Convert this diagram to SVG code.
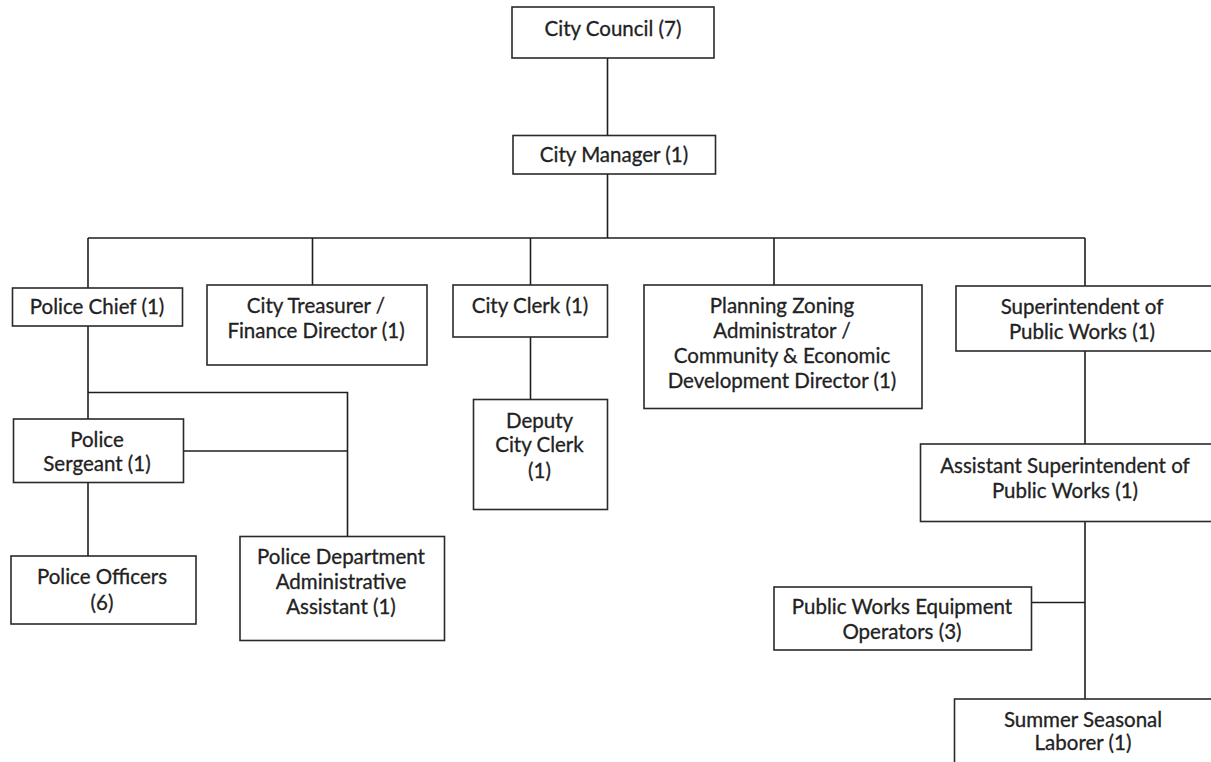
<svg xmlns="http://www.w3.org/2000/svg" width="1211" height="762" viewBox="0 0 1211 762">
  <style>
    .box { fill: #ffffff; stroke: #2a2a2a; stroke-width: 1.6; }
    .wire { fill: none; stroke: #1e1e1e; stroke-width: 1.6; }
    .lbl { font-family: Lato, "Liberation Sans", sans-serif; font-size: 20.5px; fill: #222222; stroke: #222222; stroke-width: 0.3; text-anchor: middle; }
  </style>
  <rect width="1211" height="762" fill="#ffffff"/>

  <!-- reporting lines -->
  <g id="connectors">
    <path class="wire" d="M607.5 58 V135.5"/>
    <path class="wire" d="M607.5 174 V238"/>
    <path class="wire" d="M88 238 H1085"/>
    <path class="wire" d="M88 238 V288 M312.5 238 V285 M530.5 238 V285 M774 238 V285 M1085 238 V286"/>
    <path class="wire" d="M88 326 V419"/>
    <path class="wire" d="M88 392.5 H347.5 V536.5"/>
    <path class="wire" d="M183 451 H347.5"/>
    <path class="wire" d="M88 482.5 V556"/>
    <path class="wire" d="M530.5 337 V399.5"/>
    <path class="wire" d="M1085 351 V444"/>
    <path class="wire" d="M1085 521.5 V699"/>
    <path class="wire" d="M1031.5 602.5 H1085"/>
  </g>

  <g id="city-council">
    <rect class="box" x="512" y="7" width="202" height="51"/>
    <text class="lbl" x="613" y="35.5">City Council (7)</text>
  </g>
  <g id="city-manager">
    <rect class="box" x="513" y="135.5" width="202.5" height="38.5"/>
    <text class="lbl" x="614" y="162">City Manager (1)</text>
  </g>
  <g id="police-chief">
    <rect class="box" x="12.5" y="288" width="170" height="38"/>
    <text class="lbl" x="97" y="314">Police Chief (1)</text>
  </g>
  <g id="city-treasurer">
    <rect class="box" x="207" y="285" width="220" height="80"/>
    <text class="lbl" x="316" y="313">City Treasurer /</text>
    <text class="lbl" x="316" y="338">Finance Director (1)</text>
  </g>
  <g id="city-clerk">
    <rect class="box" x="453" y="285" width="154.5" height="52"/>
    <text class="lbl" x="530" y="313">City Clerk (1)</text>
  </g>
  <g id="deputy-city-clerk">
    <rect class="box" x="473.5" y="399.5" width="134" height="110"/>
    <text class="lbl" x="539.5" y="427.5">Deputy</text>
    <text class="lbl" x="539.5" y="452">City Clerk</text>
    <text class="lbl" x="539.5" y="477.5">(1)</text>
  </g>
  <g id="planning-zoning">
    <rect class="box" x="644" y="285" width="278" height="123.5"/>
    <text class="lbl" x="782" y="312.5">Planning Zoning</text>
    <text class="lbl" x="782" y="337.5">Administrator /</text>
    <text class="lbl" x="782" y="363">Community &amp; Economic</text>
    <text class="lbl" x="782" y="388">Development Director (1)</text>
  </g>
  <g id="superintendent-public-works">
    <rect class="box" x="956" y="286" width="258" height="65"/>
    <text class="lbl" x="1082" y="314">Superintendent of</text>
    <text class="lbl" x="1082" y="339">Public Works (1)</text>
  </g>
  <g id="assistant-superintendent">
    <rect class="box" x="920.5" y="444" width="293" height="77.5"/>
    <text class="lbl" x="1065" y="472.5">Assistant Superintendent of</text>
    <text class="lbl" x="1065" y="497.5">Public Works (1)</text>
  </g>
  <g id="equipment-operators">
    <rect class="box" x="774" y="587" width="257.5" height="63"/>
    <text class="lbl" x="902" y="613.5">Public Works Equipment</text>
    <text class="lbl" x="902" y="638.5">Operators (3)</text>
  </g>
  <g id="seasonal-laborer">
    <rect class="box" x="954.5" y="699" width="259" height="66"/>
    <text class="lbl" x="1083" y="726.5">Summer Seasonal</text>
    <text class="lbl" x="1083" y="750">Laborer (1)</text>
  </g>
  <g id="police-sergeant">
    <rect class="box" x="13.5" y="419" width="170" height="63.5"/>
    <text class="lbl" x="97" y="446.5">Police</text>
    <text class="lbl" x="97" y="470.5">Sergeant (1)</text>
  </g>
  <g id="police-officers">
    <rect class="box" x="11" y="556" width="185" height="68"/>
    <text class="lbl" x="102" y="584">Police Officers</text>
    <text class="lbl" x="102" y="610">(6)</text>
  </g>
  <g id="pd-admin-assistant">
    <rect class="box" x="240" y="536.5" width="204.5" height="104"/>
    <text class="lbl" x="341" y="563.5">Police Department</text>
    <text class="lbl" x="341" y="588.5">Administrative</text>
    <text class="lbl" x="341" y="613.5">Assistant (1)</text>
  </g>
</svg>
